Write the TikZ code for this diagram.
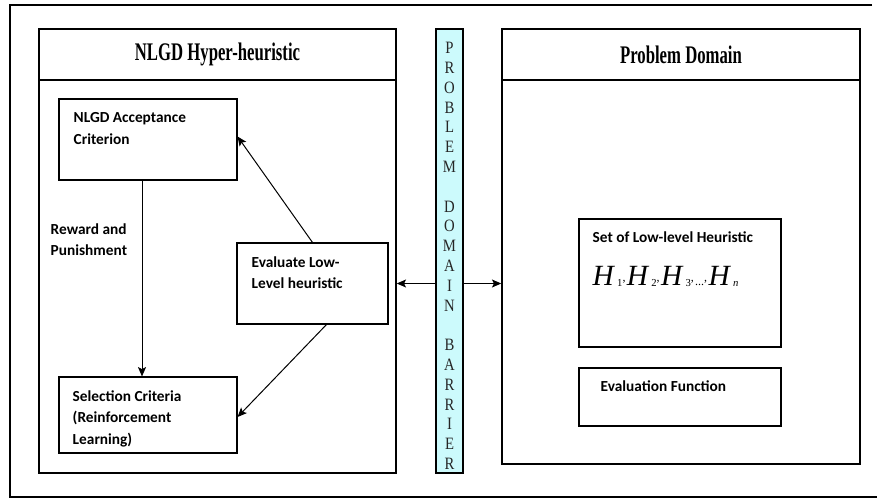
\documentclass[tikz,border=0pt]{standalone}
\usepackage{graphicx}
\usepackage{fontspec}
\setmainfont{Liberation Serif}
\newfontfamily\boxfont{Carlito}
\usetikzlibrary{arrows.meta,fit,positioning}

% one H with its small index, and the raised comma between them
\newcommand\hindex[1]{\textit{H}\kern1.5pt\raisebox{-1pt}{\fontsize{8}{8}\selectfont #1}}
\newcommand\hcomma{\raisebox{3pt}{\fontsize{9}{9}\selectfont ,}\kern1pt}

\begin{document}
\begin{tikzpicture}[x=0.75pt,y=0.75pt,yscale=-1,xscale=1,
    panel/.style={draw, line width=1.1pt, inner sep=0pt},
    box/.style={draw, line width=0.8pt, inner sep=0pt},
    boxtext/.style={anchor=north west, inner sep=0pt, align=left, font=\boxfont\bfseries\fontsize{11.5}{16}\selectfont},
    paneltitle/.style={inner sep=0pt, font=\bfseries\fontsize{19}{19}\selectfont},
    barletter/.style={inner sep=0pt, text=black!85, font=\fontsize{13}{13}\selectfont},
    arr/.style={-{Stealth[length=7pt,width=6pt,inset=1.5pt]}, line width=0.75pt}]
        \useasboundingbox (0,0) rectangle (877,498);
        %Outer frame
        \draw [line width=1.1pt]  (872,5) -- (10,5) -- (10,497) -- (877,497) ;
        %Left panel
        \node [panel, fit={(39,29) (396,80)}] (lhead) {};
        \node [panel, fit={(39,80) (396,473)}] (left) {};
        \node [paneltitle] (ltitle) at (lhead.center) {\scalebox{0.66}[1]{NLGD Hyper-heuristic}};
        %Barrier
        \node [panel, line width=1.3pt, fill={rgb, 255:red, 204; green, 250; blue, 252 }, fit={(436,29) (463,473)}] (bar) {};
        \foreach \c [count=\i] in {P,R,O,B,L,E,M,{},D,O,M,A,I,N,{},B,A,R,R,I,E,R}
            \node [barletter] (bl\i) at (449.5,48+19.8*\i-19.8) {\scalebox{0.85}[1]{\c}};
        %Right panel
        \node [panel, fit={(502,29) (860,80)}] (rhead) {};
        \node [panel, fit={(502,80) (860,464)}] (right) {};
        \node [paneltitle] (rtitle) at (rhead.center) {\scalebox{0.66}[1]{Problem Domain}};
        %Boxes
        \node [box, fit={(59,99) (237,180)}] (nlgd) {};
        \node [box, fit={(237,243) (388,324)}] (eval) {};
        \node [box, fit={(59,377) (237,453)}] (sel) {};
        \node [box, fit={(579,219) (781,347)}] (llh) {};
        \node [box, fit={(579,368) (781,426)}] (evf) {};
        % Text Node
        \node [boxtext] (nlgdtext) at ([shift={(15,14)}]nlgd.north west) {NLGD Acceptance\\Criterion};
        % Text Node
        \node [boxtext] (evaltext) at ([shift={(15,14)}]eval.north west) {Evaluate Low-\\Level heuristic};
        % Text Node
        \node [boxtext] (seltext) at ([shift={(14,14)}]sel.north west) {Selection Criteria\\(Reinforcement\\Learning)};
        % Text Node
        \node [boxtext] (reward) at ([shift={(-8,43)}]nlgd.south west) {Reward and\\Punishment};
        % Text Node
        \node [boxtext] (llhtext) at ([shift={(14,13)}]llh.north west) {Set of Low-level Heuristic};
        % Text Node
        \node [anchor=base west, inner sep=0pt, font=\fontsize{22}{22}\selectfont] (hlist) at ([shift={(14,67)}]llh.north west)
            {\hindex{1}\hcomma\hindex{2}\hcomma\hindex{3}\hcomma{\fontsize{9}{9}\selectfont...}\hcomma\hindex{\textit{n}}};
        % Text Node
        \node [boxtext] (evftext) at ([shift={(22,13)}]evf.north west) {Evaluation Function};
        %Connectors
        \coordinate (drop) at (142,0);
        \draw [arr] (nlgd.south -| drop) -- (sel.north -| drop);
        \draw [arr] (eval.north) -- ([shift={(0,-3)}]nlgd.east);
        \draw [arr] ([shift={(14,0)}]eval.south) -- ([shift={(0,2)}]sel.east);
        \draw [arr] (bar.west |- eval.center) -- (left.east |- eval.center);
        \draw [arr] (bar.east |- eval.center) -- (right.west |- eval.center);
    \end{tikzpicture}
\end{document}
